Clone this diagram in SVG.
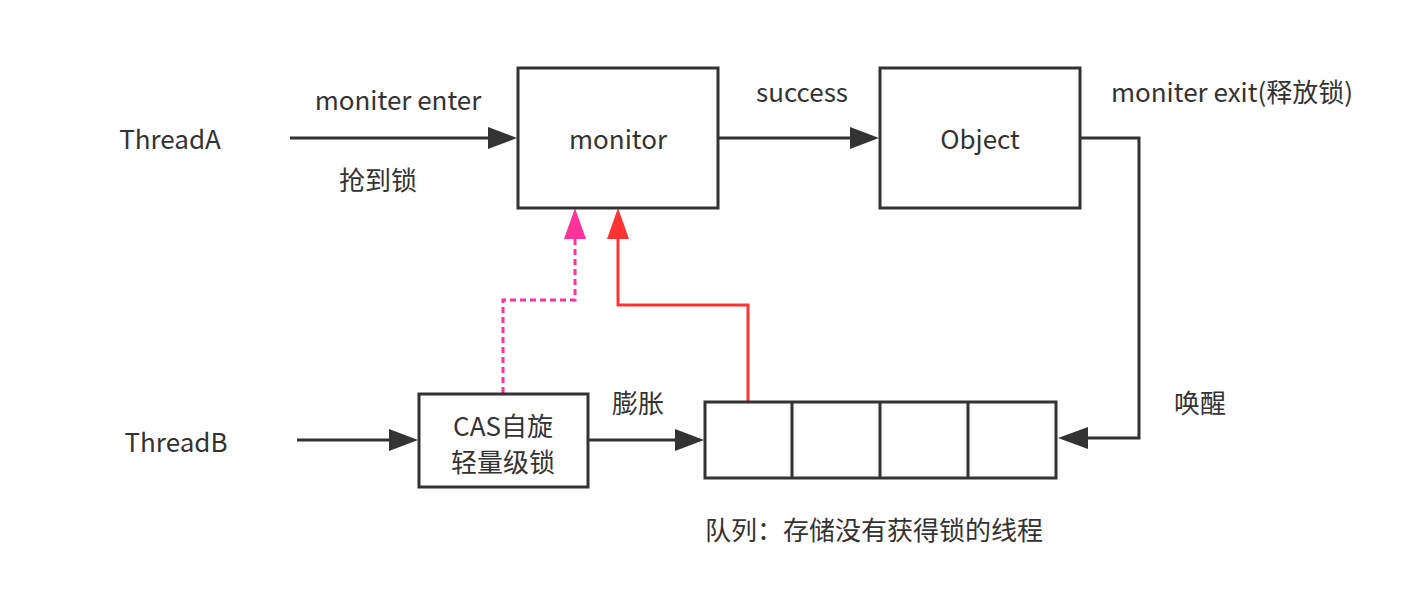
<svg xmlns="http://www.w3.org/2000/svg" width="1416" height="612" viewBox="0 0 1416 612">
<style>
text{font-family:"Noto Sans CJK SC","Noto Sans",sans-serif;font-size:26px;fill:#333;}
.box{fill:#fff;stroke:#333;stroke-width:3;}
.c{fill:none;stroke:#333;stroke-width:3;}
</style>
<rect width="1416" height="612" fill="#fff"/>
<g id="connectors">
<line class="c" x1="290" y1="138" x2="500" y2="138"/>
<path d="M488,127 L517,138 L488,149 z" fill="#333"/>
<line class="c" x1="718" y1="138" x2="860" y2="138"/>
<path d="M850,127 L879,138 L850,149 z" fill="#333"/>
<polyline class="c" points="1080,138 1139,138 1139,438 1080,438"/>
<path d="M1088,427 L1058,438 L1088,449 z" fill="#333"/>
<line class="c" x1="297" y1="440" x2="400" y2="440"/>
<path d="M389,429 L418,440 L389,451 z" fill="#333"/>
<line class="c" x1="588" y1="440" x2="690" y2="440"/>
<path d="M675,429 L704,440 L675,451 z" fill="#333"/>
<polyline points="503,393 503,300 575,300 575,238" fill="none" stroke="#FF3399" stroke-width="3" stroke-dasharray="6,4"/>
<path d="M564,239 L575,208 L586,239 z" fill="#FF3399"/>
<polyline points="748,401 748,305 618,305 618,236" fill="none" stroke="#FF3333" stroke-width="3"/>
<path d="M607,239 L618,208 L629,239 z" fill="#FF3333"/>
</g>
<g id="threadA"><text x="170" y="149" text-anchor="middle">ThreadA</text></g>
<g id="threadB"><text x="176" y="452" text-anchor="middle">ThreadB</text></g>
<g id="monitor"><rect class="box" x="518" y="68" width="200" height="140"/><text x="618" y="149" text-anchor="middle">monitor</text></g>
<g id="object"><rect class="box" x="880" y="68" width="200" height="140"/><text x="980" y="149" text-anchor="middle">Object</text></g>
<g id="cas"><rect class="box" x="419" y="394" width="169" height="93"/><text x="503" y="436" text-anchor="middle">CAS自旋</text><text x="503" y="472" text-anchor="middle">轻量级锁</text></g>
<g id="queue">
<rect class="box" x="705" y="402" width="351" height="76"/>
<line class="c" x1="792" y1="402" x2="792" y2="478"/>
<line class="c" x1="880" y1="402" x2="880" y2="478"/>
<line class="c" x1="968" y1="402" x2="968" y2="478"/>
</g>
<g id="labels">
<text x="398" y="110" text-anchor="middle">moniter enter</text>
<text x="378" y="190" text-anchor="middle">抢到锁</text>
<text x="802" y="102" text-anchor="middle">success</text>
<text x="1232" y="102" text-anchor="middle">moniter exit(释放锁)</text>
<text x="1200" y="413" text-anchor="middle">唤醒</text>
<text x="638" y="413" text-anchor="middle">膨胀</text>
<text x="705" y="540">队列：存储没有获得锁的线程</text>
</g>
</svg>
